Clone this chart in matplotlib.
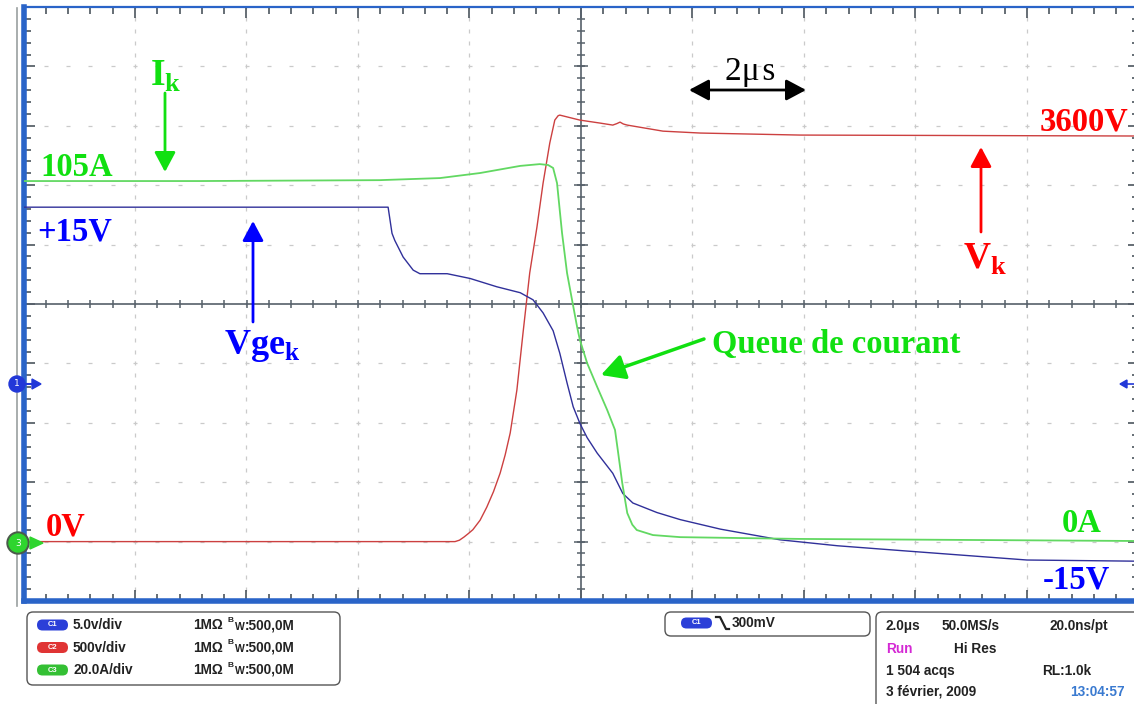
import numpy as np
import matplotlib
matplotlib.use("Agg")
import matplotlib.pyplot as plt
from matplotlib.patches import FancyBboxPatch, Circle, Polygon

plt.rcParams["mathtext.fontset"] = "custom"
plt.rcParams["mathtext.rm"] = "Liberation Serif"
plt.rcParams["mathtext.bf"] = "Liberation Serif:bold"

# --- traces (time in us, 2 us/div, trigger at centre) ---
vk_t = [-10.0, -2.26, -2.18, -2.10, -2.02, -1.94, -1.81, -1.69, -1.57, -1.45,
        -1.36, -1.27, -1.15, -1.04, -0.92, -0.79, -0.68, -0.56, -0.47, -0.41,
        -0.38, -0.02, 0.34, 0.57, 0.64, 0.70, 0.76, 0.83, 1.47, 2.14, 3.93, 10.0]
vk_v = [0, 0, 12, 38, 68, 100, 180, 290, 420, 577,
        730, 914, 1276, 1756, 2261, 2648, 3018, 3355, 3548, 3585,
        3590, 3548, 3523, 3506, 3518, 3531, 3515, 3506, 3455, 3439, 3422, 3414]

ik_t = [-10.0, -6.83, -3.61, -2.53, -1.81, -1.09, -0.74, -0.59, -0.50, -0.43,
        -0.34, -0.25, -0.16, -0.07, -0.02, 0.11, 0.29, 0.47, 0.61, 0.66,
        0.74, 0.83, 0.92, 1.00, 1.29, 1.78, 3.93, 10.0]
ik_a = [121.2, 121.2, 121.5, 122.2, 123.9, 126.3, 126.9, 126.6, 125.6, 120.5,
        103.7, 90.2, 81.1, 72.1, 67.7, 59.9, 51.9, 44.1, 37.4, 30.6,
        19.5, 9.4, 5.5, 3.7, 2.0, 1.3, 0.7, 0.0]

vge_t = [-10.0, -3.46, -3.39, -3.34, -3.19, -3.01, -2.89, -2.40, -1.99, -1.51,
         -1.09, -0.86, -0.68, -0.50, -0.38, -0.25, -0.14, -0.02, 0.11, 0.29,
         0.57, 0.75, 0.93, 1.36, 1.78, 2.50, 3.57, 4.60, 5.72, 8.00, 10.0]
vge_v = [14.9, 14.9, 12.7, 12.1, 10.7, 9.6, 9.3, 9.3, 8.9, 8.2,
         7.7, 7.1, 6.0, 4.5, 2.6, 0.1, -1.9, -3.3, -4.5, -5.8,
         -7.5, -9.2, -10.0, -10.8, -11.4, -12.2, -13.1, -13.6, -14.0, -14.8, -14.9]

# channel settings: (units per div, ground offset in div)
vk_scale, vk_off = 500.0, -4.0
ik_scale, ik_off = 20.0, -3.99
vge_scale, vge_off = 5.0, -1.35

info_rows = [("C1", "#2b3fd8", "5.0v/div"),
             ("C2", "#e03434", "500v/div"),
             ("C3", "#34c034", "20.0A/div")]

W, H = 1134, 704
fig = plt.figure(figsize=(W / 100, H / 100), dpi=100)
fig.patch.set_facecolor("white")

# scope screen: 10 x 10 divisions
x0, x1, y0, y1 = 23.5, 1138.5, 7.0, 601.0
ax = fig.add_axes([x0 / W, 1 - y1 / H, (x1 - x0) / W, (y1 - y0) / H])
ax.set_xlim(-10, 10)
ax.set_ylim(-5, 5)

grid_c = "#cacaca"
minor_x = np.arange(-10, 10.01, 0.4)
minor_y = np.arange(-5, 5.01, 0.2)
for gx in np.arange(-8, 8.1, 2):
    if abs(gx) < 1e-6:
        continue
    ax.plot(np.full(len(minor_y), gx), minor_y, ls="none", marker="|",
            ms=2.2, mew=0.9, color=grid_c, zorder=1)
for gy in np.arange(-4, 4.1, 1):
    if abs(gy) < 1e-6:
        continue
    ax.plot(minor_x, np.full(len(minor_x), gy), ls="none", marker="_",
            ms=3.0, mew=0.9, color=grid_c, zorder=1)

# centre crosshair with its ticks
axis_c = "#56606a"
ax.axhline(0, color=axis_c, lw=1.2, zorder=2)
ax.axvline(0, color=axis_c, lw=1.2, zorder=2)
ax.plot(minor_x, np.zeros(len(minor_x)), ls="none", marker="|", ms=6,
        mew=1.1, color=axis_c, zorder=2)
ax.plot(np.zeros(len(minor_y)), minor_y, ls="none", marker="_", ms=6,
        mew=1.1, color=axis_c, zorder=2)
ax.plot(np.zeros(11), np.arange(-5, 6), ls="none", marker="_", ms=10,
        mew=1.1, color=axis_c, zorder=2)

ax.set_xticks(np.arange(-10, 10.1, 2))
ax.set_xticks(minor_x, minor=True)
ax.set_yticks(np.arange(-5, 5.1, 1))
ax.set_yticks(minor_y, minor=True)
ax.tick_params(which="both", direction="in", top=True, right=True,
               labelbottom=False, labelleft=False, color="#3c4650", width=1.1)
ax.tick_params(which="major", length=8)
ax.tick_params(which="minor", length=5)
for side in ["top", "right"]:
    ax.spines[side].set_color("#2a64c8")
    ax.spines[side].set_linewidth(1.6)
for side in ["left", "bottom"]:
    ax.spines[side].set_color("#2a64c8")
    ax.spines[side].set_linewidth(4.0)

ax.plot(vk_t, np.array(vk_v) / vk_scale + vk_off, color="#cc4040", lw=1.0, zorder=3)
ax.plot(vge_t, np.array(vge_v) / vge_scale + vge_off, color="#30309a", lw=1.0, zorder=3)
ax.plot(ik_t, np.array(ik_a) / ik_scale + ik_off, color="#62d862", lw=1.3, zorder=4)

# overlay in pixel coordinates for labels, markers and the status panel
ov = fig.add_axes([0, 0, 1, 1])
ov.set_xlim(0, W)
ov.set_ylim(H, 0)
ov.axis("off")
ov.patch.set_alpha(0)

ov.plot([16.5, 16.5], [8, 606], color="#9aa0a0", lw=1.2)

serif = "Liberation Serif"
red, green, blue = "#ff0000", "#11e011", "#0000ff"


def arrow(p_from, p_to, color, both=False, hw=0.32, hl=0.6, ms=20, lw=2.0):
    style = "<|-|>" if both else "-|>"
    ov.annotate("", xy=p_to, xytext=p_from,
                arrowprops=dict(arrowstyle=f"{style},head_width={hw},head_length={hl}",
                                mutation_scale=ms, lw=lw, color=color,
                                shrinkA=0, shrinkB=0))


lab = dict(family=serif, weight="bold", fontsize=23.5)
ov.text(166, 76, r"$\mathbf{I}_{\mathbf{k}}$", color=green, ha="center", va="center", fontsize=27)
ov.text(40, 168, "105A", color=green, ha="left", va="center", **lab)
ov.text(37, 232, "+15V", color=blue, ha="left", va="center", **lab)
ov.text(262, 346, r"$\mathbf{Vge}_{\mathbf{k}}$", color=blue, ha="center", va="center", fontsize=26)
ov.text(1128, 122, "3600V", color=red, ha="right", va="center", **lab)
ov.text(985, 259, r"$\mathbf{V}_{\mathbf{k}}$", color=red, ha="center", va="center", fontsize=27)
ov.text(712, 345, "Queue de courant", color=green, ha="left", va="center", **lab)
ov.text(46, 527, "0V", color=red, ha="left", va="center", **lab)
ov.text(1062, 523, "0A", color=green, ha="left", va="center", **lab)
ov.text(1110, 580, "-15V", color=blue, ha="right", va="center", **lab)
ov.text(750, 72, "2\u03bc\u200as", color="black", ha="center", va="center",
        family=serif, fontsize=24)

arrow((165, 93), (165, 172), green, lw=2.0)
arrow((253, 322), (253, 221), blue, lw=2.0)
arrow((981, 232), (981, 147), red, lw=2.0)
arrow((704, 339), (601, 375), green, hw=0.35, hl=0.65, ms=22, lw=2.5)
arrow((689, 90), (806, 90), "black", both=True, lw=2.0)

# channel markers on the left edge and the trigger arrow on the right
ov.add_patch(Circle((17, 384), 8, color="#2238d8", zorder=5))
ov.add_patch(Polygon([[32, 379], [41, 384], [32, 389]], color="#2238d8", zorder=5))
ov.plot([24, 34], [384, 384], color="#2238d8", lw=1.5, zorder=5)
ov.text(17, 384, "1", color="white", fontsize=6.5, ha="center", va="center", zorder=6)
ov.add_patch(Circle((18, 543), 11, color="#4a5a4a", zorder=5))
ov.add_patch(Circle((18, 543), 9, color="#2ed52e", zorder=6))
ov.add_patch(Polygon([[30, 537], [43, 543], [30, 549]], color="#2ed52e", zorder=6))
ov.text(18, 543, "3", color="white", fontsize=6.5, ha="center", va="center", zorder=7)
ov.plot([1124, 1134], [384, 384], color="#2238d8", lw=1.2)
ov.add_patch(Polygon([[1120, 384], [1127, 380], [1127, 388]], color="#2238d8"))

# status panel
sans = "Liberation Sans"
box_kw = dict(boxstyle="round,pad=0,rounding_size=6", facecolor="white",
              edgecolor="#555555", lw=1.0)
ov.add_patch(FancyBboxPatch((27, 612), 313, 73, **box_kw))
ov.add_patch(FancyBboxPatch((665, 612), 205, 24, **box_kw))
ov.add_patch(FancyBboxPatch((876, 612), 270, 100, **box_kw))


def pill(x, y, name, color):
    ov.add_patch(FancyBboxPatch((x, y - 5.5), 31, 11,
                                boxstyle="round,pad=0,rounding_size=5.5",
                                facecolor=color, edgecolor="none"))
    ov.text(x + 15.5, y, name, color="white", fontsize=5.5, family=sans,
            weight="bold", ha="center", va="center")


txt = dict(family=sans, weight="bold", fontsize=9.8, color="#222222", va="center")
for i, (name, col, scale) in enumerate(info_rows):
    y = 625 + i * 22.5
    pill(37, y, name, col)
    ov.text(73, y, scale, **txt)
    ov.text(193, y, "1M\u03a9", **txt)
    ov.text(227, y - 4.5, "B", family=sans, weight="bold", fontsize=6,
            color="#222222", va="center")
    ov.text(235, y + 1.5, "W", family=sans, weight="bold", fontsize=7.5,
            color="#222222", va="center")
    ov.text(245, y, ":500,0M", **txt)

pill(681, 623, "C1", "#2b3fd8")
ov.plot([716, 720, 726, 729], [617, 617, 629, 629], color="#222222", lw=1.6)
ov.text(732, 623, "300mV", **txt)

ov.text(886, 626, "2.0\u03bcs", **txt)
ov.text(942, 626, "50.0MS/s", **txt)
ov.text(1049, 626, "20.0ns/pt", **txt)
ov.text(886, 649, "Run", **{**txt, "color": "#d428d4"})
ov.text(954, 649, "Hi Res", **txt)
ov.text(886, 671, "1 504 acqs", **txt)
ov.text(1042, 671, "RL:1.0k", **txt)
ov.text(886, 692, "3 f\u00e9vrier, 2009", **txt)
ov.text(1070, 692, "13:04:57", **{**txt, "color": "#3a7ad0"})

fig.savefig("out.png", dpi=100)
